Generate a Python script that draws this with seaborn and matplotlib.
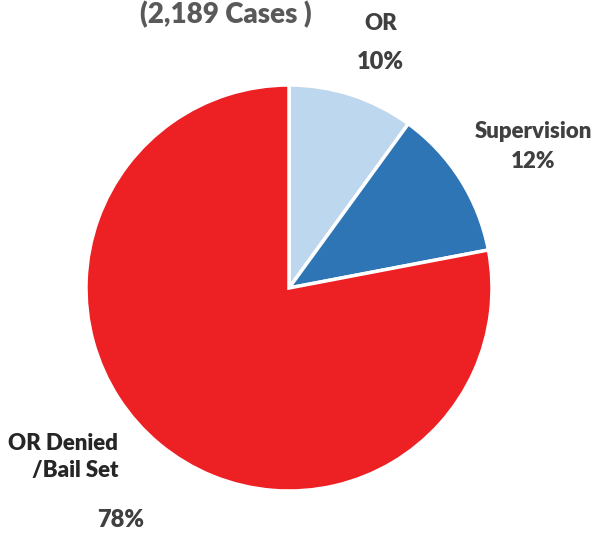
import matplotlib
matplotlib.use("Agg")
import matplotlib.pyplot as plt
import seaborn as sns

# data
categories = ["OR", "Supervision", "OR Denied\n/Bail Set"]
shares = [10, 12, 78]
colors = ["#BDD7EE", "#2E75B6", "#ED2024"]
subtitle = "(2,189 Cases )"

sns.set_theme(style="white")
plt.rcParams["font.family"] = ["Lato", "DejaVu Sans"]

W, H = 596, 534
fig = plt.figure(figsize=(W / 100, H / 100), dpi=100)
ax = fig.add_axes([0, 0, 1, 1])

# pie in pixel units (y measured from bottom)
ax.pie(shares, colors=colors, startangle=90, counterclock=False,
       center=(289, H - 288), radius=203, frame=True,
       wedgeprops=dict(edgecolor="white", linewidth=2.5))
ax.set_xlim(0, W)
ax.set_ylim(0, H)
ax.set_aspect("equal")
ax.axis("off")

lab_col = "#404040"
fs = 16
ax.text(226, H - 1, subtitle, ha="center", va="top", fontsize=20,
        fontweight="heavy", color="#595959")

ax.text(381, H - 24, categories[0], ha="center", va="center", fontsize=fs,
        fontweight="heavy", color=lab_col)
ax.text(380, H - 62, f"{shares[0]}%", ha="center", va="center", fontsize=fs + 1,
        fontweight="heavy", color=lab_col)
ax.text(533, H - 132, categories[1], ha="center", va="center", fontsize=fs,
        fontweight="heavy", color=lab_col)
ax.text(533, H - 162, f"{shares[1]}%", ha="center", va="center", fontsize=fs,
        fontweight="heavy", color=lab_col)
ax.text(118, H - 457, categories[2], ha="right", va="center", fontsize=fs,
        fontweight="heavy", color="#262626", linespacing=1.35)
ax.text(121, H - 520, f"{shares[2]}%", ha="center", va="center", fontsize=fs + 1,
        fontweight="heavy", color=lab_col)

fig.savefig("out.png", dpi=100)
